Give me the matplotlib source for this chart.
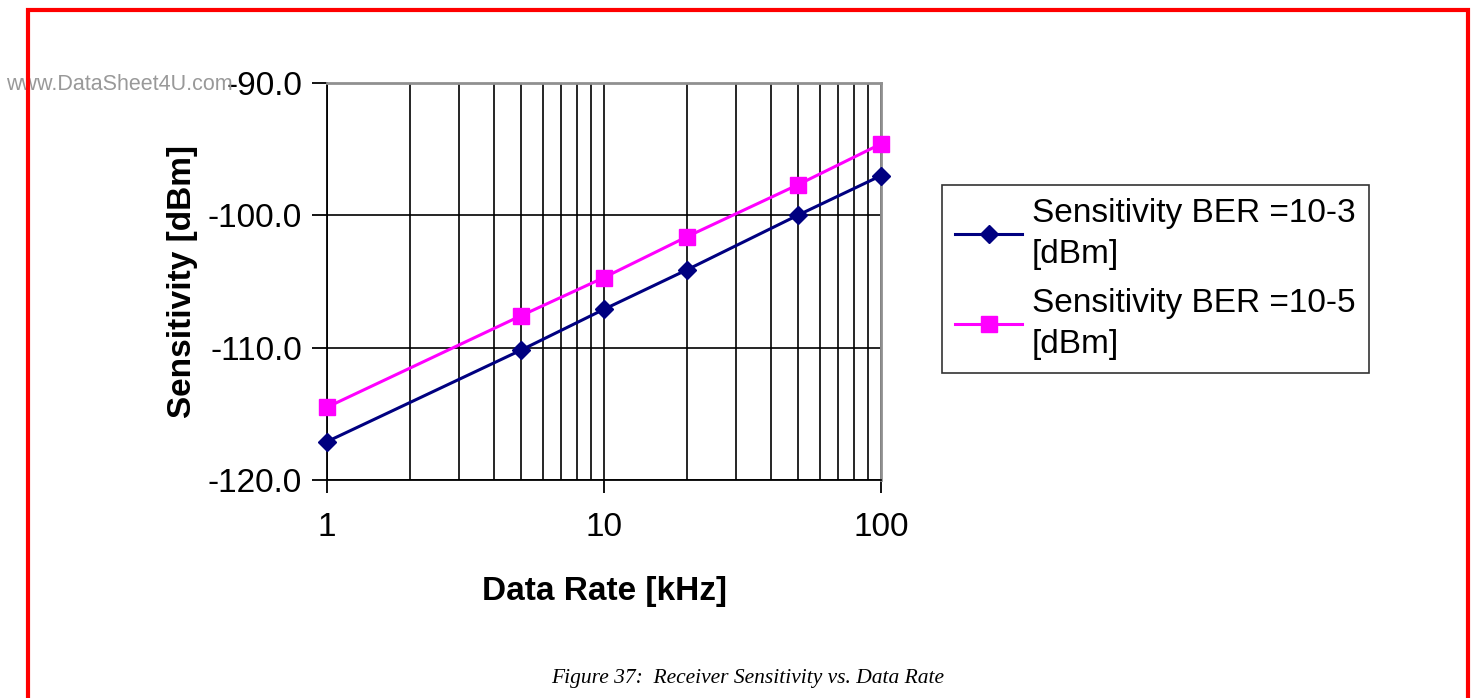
import matplotlib
matplotlib.use("Agg")
import matplotlib.pyplot as plt
from matplotlib.patches import Rectangle
from matplotlib.ticker import FixedLocator, NullFormatter, FixedFormatter

data_rate = [1, 5, 10, 20, 50, 100]
sens_ber3 = [-117.1, -110.2, -107.1, -104.1, -100.0, -97.0]
sens_ber5 = [-114.5, -107.6, -104.7, -101.6, -97.7, -94.6]
labels = ["Sensitivity BER =10-3\n[dBm]", "Sensitivity BER =10-5\n[dBm]"]
yticks = [-120.0, -110.0, -100.0, -90.0]
xticks = [1, 10, 100]

plt.rcParams['font.family'] = ['Liberation Sans', 'DejaVu Sans']

W, H = 1471, 698
fig = plt.figure(figsize=(W / 100, H / 100), dpi=100)

def fx(px):
    return px / W

def fy(py):
    return 1 - py / H

ax = fig.add_axes([fx(327), fy(480), fx(881) - fx(327), fy(83) - fy(480)])

ax.plot(data_rate, sens_ber3, color='#000080', marker='D', markersize=9, lw=2.2, label=labels[0],
        zorder=4, clip_on=False)
ax.plot(data_rate, sens_ber5, color='#FF00FF', marker='s', markersize=11, lw=2.2, label=labels[1],
        zorder=4, clip_on=False)

ax.set_xscale('log')
ax.set_xlim(1, 100)
ax.set_ylim(-120, -90)
ax.xaxis.set_major_locator(FixedLocator(xticks))
ax.xaxis.set_major_formatter(FixedFormatter([str(v) for v in xticks]))
minor = [m * d for d in (1, 10) for m in range(2, 10)]
ax.xaxis.set_minor_locator(FixedLocator(minor))
ax.xaxis.set_minor_formatter(NullFormatter())
ax.set_yticks(yticks)
ax.set_yticklabels([f"{v:.1f}" for v in yticks])

ax.grid(True, which='major', axis='both', color='black', lw=1.2)
ax.grid(True, which='minor', axis='x', color='black', lw=1.2)
ax.set_axisbelow(True)

for s in ('top', 'right'):
    ax.spines[s].set_color('#909090')
    ax.spines[s].set_linewidth(2)
for s in ('left', 'bottom'):
    ax.spines[s].set_color('black')
    ax.spines[s].set_linewidth(1.3)

ax.tick_params(axis='y', which='major', direction='out', length=11, width=1.3, labelsize=24, pad=7)
ax.tick_params(axis='x', which='major', direction='out', length=9, width=1.3, labelsize=24, pad=14)
ax.tick_params(axis='x', which='minor', length=0)

ax.set_xlabel("Data Rate [kHz]", fontsize=24, fontweight='bold', labelpad=24)
ax.set_ylabel("Sensitivity [dBm]", fontsize=24, fontweight='bold', labelpad=7)

leg = ax.legend(loc='upper left', bbox_to_anchor=(fx(942), fy(185)), bbox_transform=fig.transFigure,
                fontsize=24, frameon=True, fancybox=False, edgecolor='black', handlelength=2.0,
                handletextpad=0.3, borderpad=0.4, labelspacing=0.55, borderaxespad=0)
leg.get_frame().set_linewidth(1.2)
for t in leg.get_texts():
    t.set_linespacing(1.4)

# red page border
fig.patches.append(Rectangle((fx(28), -0.05), fx(1468) - fx(28), fy(10) + 0.05,
                             transform=fig.transFigure, fill=False, edgecolor='red', lw=3, zorder=10))

fig.text(fx(6), fy(85), "www.DataSheet4U.com", color='#999999', fontsize=15.5, va='center', ha='left')
fig.text(fx(748), fy(679), "Figure 37:  Receiver Sensitivity vs. Data Rate", fontsize=15.5,
         style='italic', family=['Liberation Serif', 'DejaVu Serif'], ha='center', va='center')

fig.savefig("out.png", dpi=100)
